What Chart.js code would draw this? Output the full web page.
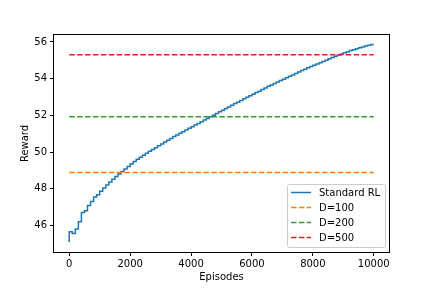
<!DOCTYPE html>
<html>
<head>
<meta charset="utf-8">
<script src="https://cdn.jsdelivr.net/npm/chart.js@4.4.0/dist/chart.umd.min.js"></script>
<style>
html, body { margin: 0; padding: 0; background: #fff; }
</style>
</head>
<body>
<canvas id="my-chart" width="432" height="288"></canvas>
<script>
// episodes where the reward curve steps
const episodes = [
    0, 100, 200, 300, 400, 500, 600, 700, 800, 900,
    1000, 1100, 1200, 1300, 1400, 1500, 1600, 1700, 1800, 1900,
    2000, 2100, 2200, 2300, 2400, 2500, 2600, 2700, 2800, 2900,
    3000, 3100, 3200, 3300, 3400, 3500, 3600, 3700, 3800, 3900,
    4000, 4100, 4200, 4300, 4400, 4500, 4600, 4700, 4800, 4900,
    5000, 5100, 5200, 5300, 5400, 5500, 5600, 5700, 5800, 5900,
    6000, 6100, 6200, 6300, 6400, 6500, 6600, 6700, 6800, 6900,
    7000, 7100, 7200, 7300, 7400, 7500, 7600, 7700, 7800, 7900,
    8000, 8100, 8200, 8300, 8400, 8500, 8600, 8700, 8800, 8900,
    9000, 9100, 9200, 9300, 9400, 9500, 9600, 9700, 9800, 9900,
    10000
];

const standardRL = [
    45.08, 45.65, 45.56, 45.80, 46.20, 46.70, 46.80, 47.08, 47.30, 47.55,
    47.67, 47.86, 48.04, 48.20, 48.37, 48.52, 48.66, 48.80, 48.94, 49.08,
    49.21, 49.35, 49.48, 49.60, 49.71, 49.82, 49.93, 50.04, 50.14, 50.24,
    50.34, 50.44, 50.54, 50.64, 50.74, 50.84, 50.93, 51.02, 51.11, 51.20,
    51.29, 51.38, 51.47, 51.56, 51.65, 51.74, 51.83, 51.92, 52.01, 52.10,
    52.19, 52.28, 52.37, 52.46, 52.55, 52.64, 52.72, 52.81, 52.90, 52.98,
    53.07, 53.15, 53.24, 53.32, 53.41, 53.49, 53.58, 53.66, 53.74, 53.82,
    53.90, 53.97, 54.05, 54.13, 54.20, 54.28, 54.36, 54.44, 54.51, 54.59,
    54.66, 54.73, 54.80, 54.87, 54.94, 55.01, 55.08, 55.15, 55.22, 55.29,
    55.35, 55.41, 55.47, 55.53, 55.58, 55.63, 55.68, 55.73, 55.78, 55.82,
    55.86
];

// constant baselines
const dLabels = ['D=100', 'D=200', 'D=500'];
const dValues = [48.88, 51.93, 55.31];
const dStart = 0;
const dEnd = 10000;

const xTicks = [0, 2000, 4000, 6000, 8000, 10000];
const yTicks = [46, 48, 50, 52, 54, 56];

const colors = ['#1f77b4', '#ff7f0e', '#2ca02c', '#d62728'];
const FONT = 'DejaVu Sans';

const datasets = [{
    label: 'Standard RL',
    data: episodes.map((e, i) => ({x: e, y: standardRL[i]})),
    borderColor: colors[0],
    borderWidth: 1.5,
    pointRadius: 0,
    fill: false,
    stepped: 'after',
    order: 1
}];
dLabels.forEach((lab, i) => {
    datasets.push({
        label: lab,
        data: [{x: dStart, y: dValues[i]}, {x: dEnd, y: dValues[i]}],
        borderColor: colors[i + 1],
        borderWidth: 1.5,
        borderDash: [5.5, 2.4],
        pointRadius: 0,
        fill: false,
        order: 0
    });
});

// axes box + matplotlib style legend
const frameAndLegend = {
    id: 'frameAndLegend',
    afterDraw(chart) {
        const ctx = chart.ctx;
        const a = chart.chartArea;
        ctx.save();
        ctx.strokeStyle = '#000';
        ctx.lineWidth = 1;
        ctx.strokeRect(Math.round(a.left) - 0.5, Math.round(a.top) - 0.5,
            Math.round(a.right - a.left) + 1, Math.round(a.bottom - a.top) + 1);

        // legend, lower right
        const w = 98, h = 63;
        const bx = a.right - 4 - w;
        const by = a.bottom - 5 - h;
        ctx.beginPath();
        ctx.roundRect(bx + 0.5, by + 0.5, w, h, 2);
        ctx.fillStyle = 'rgba(255,255,255,0.8)';
        ctx.fill();
        ctx.strokeStyle = '#cccccc';
        ctx.stroke();

        ctx.font = '10px "' + FONT + '"';
        ctx.textBaseline = 'middle';
        ctx.textAlign = 'left';
        chart.data.datasets.forEach((ds, i) => {
            const yy = by + 8.5 + i * 15;
            ctx.beginPath();
            ctx.setLineDash(ds.borderDash || []);
            ctx.strokeStyle = ds.borderColor;
            ctx.lineWidth = 1.5;
            ctx.moveTo(bx + 4, yy);
            ctx.lineTo(bx + 24, yy);
            ctx.stroke();
            ctx.setLineDash([]);
            ctx.fillStyle = '#000';
            ctx.fillText(ds.label, bx + 32, yy + 0.5);
        });
        ctx.restore();
    }
};

const ctx = document.getElementById('my-chart');

const chart = new Chart(ctx, {
    type: 'line',
    data: {datasets: datasets},
    plugins: [frameAndLegend],
    options: {
        responsive: false,
        animation: false,
        devicePixelRatio: 1,
        layout: {
            padding: {left: 0, top: 35, right: 43, bottom: 0}
        },
        plugins: {
            legend: {display: false},
            tooltip: {enabled: false}
        },
        scales: {
            x: {
                type: 'linear',
                min: -500,
                max: 10500,
                afterBuildTicks: (s) => { s.ticks = xTicks.map(v => ({value: v})); },
                afterFit: (s) => { s.height = 36; },
                grid: {
                    drawOnChartArea: false,
                    drawTicks: true,
                    tickLength: 4,
                    color: '#000'
                },
                border: {display: false},
                ticks: {
                    color: '#000',
                    font: {family: FONT, size: 10},
                    padding: 2,
                    maxRotation: 0,
                    callback: (v) => String(v)
                },
                title: {
                    display: true,
                    text: 'Episodes',
                    color: '#000',
                    font: {family: FONT, size: 10},
                    padding: {top: 0, bottom: 5}
                }
            },
            y: {
                type: 'linear',
                min: 44.55,
                max: 56.38,
                afterBuildTicks: (s) => { s.ticks = yTicks.map(v => ({value: v})); },
                afterFit: (s) => { s.width = 54; },
                grid: {
                    drawOnChartArea: false,
                    drawTicks: true,
                    tickLength: 4,
                    color: '#000'
                },
                border: {display: false},
                ticks: {
                    color: '#000',
                    font: {family: FONT, size: 10},
                    padding: 3,
                    callback: (v) => String(v)
                },
                title: {
                    display: true,
                    text: 'Reward',
                    color: '#000',
                    font: {family: FONT, size: 10},
                    padding: {top: 19, bottom: 0}
                }
            }
        }
    }
});
</script>
</body>
</html>
